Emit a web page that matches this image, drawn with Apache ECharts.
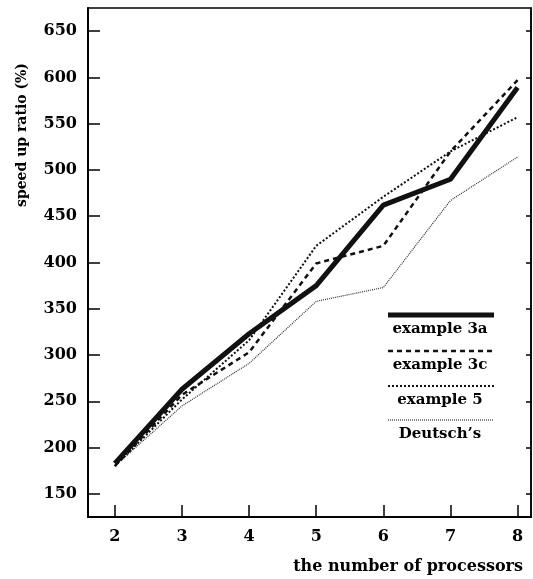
<!DOCTYPE html>
<html>
<head>
<meta charset="utf-8">
<script src="https://cdn.jsdelivr.net/npm/echarts@6/dist/echarts.min.js"></script>
<style>
  html, body { margin: 0; padding: 0; background: #fff; }
  #chart { width: 533px; height: 579px; }
</style>
</head>
<body>
<div id="chart"></div>
<script>
const processors = [2, 3, 4, 5, 6, 7, 8]
const example3a = [183, 263, 323, 375, 462, 490, 589]
const example3c = [180, 257, 303, 399, 418, 520, 597]
const example5 = [180, 252, 316, 418, 471, 520, 557]
const deutsch = [180, 245, 291, 358, 373, 467, 514]
const yTicks = [150, 200, 250, 300, 350, 400, 450, 500, 550, 600, 650]
const xTicks = [2, 3, 4, 5, 6, 7, 8]

const font = 'DejaVu Serif'
const pairs = (vals) => processors.map((p, i) => [p, vals[i]])

const styles = {
  '3a': { color: '#111', width: 5, type: 'solid' },
  '3c': { color: '#111', width: 2.5, type: [5, 4] },
  '5': { color: '#111', width: 2, type: [2, 2] },
  'de': { color: '#333', width: 1.2, type: [1, 1] }
}

const chart = echarts.init(document.getElementById('chart'))

// legend is drawn by hand: line above its label, as in the original
const legendRows = [
  { text: 'example 3a', st: styles['3a'], y: 315 },
  { text: 'example 3c', st: styles['3c'], y: 351 },
  { text: 'example 5', st: styles['5'], y: 386 },
  { text: 'Deutsch\u2019s', st: styles['de'], y: 420 }
]
const legendGraphics = []
legendRows.forEach((r) => {
  legendGraphics.push({
    type: 'line',
    shape: { x1: 388, y1: r.y, x2: 494, y2: r.y },
    style: { stroke: r.st.color, lineWidth: r.st.width, lineDash: r.st.type === 'solid' ? null : r.st.type }
  })
  legendGraphics.push({
    type: 'text',
    x: 440,
    y: r.y + 14,
    style: {
      text: r.text,
      font: 'bold 15px "' + font + '"',
      fill: '#000',
      align: 'center',
      verticalAlign: 'middle'
    }
  })
})

const option = {
  animation: false,
  backgroundColor: '#fff',
  grid: {
    left: 88,
    right: 2,
    top: 8,
    bottom: 62,
    show: true,
    borderColor: '#000',
    borderWidth: 1.5
  },
  xAxis: {
    type: 'value',
    min: 1.6,
    max: 8.2,
    axisLine: { show: true, onZero: false, lineStyle: { color: '#000', width: 2 } },
    axisTick: { show: true, inside: true, length: 12, customValues: xTicks, lineStyle: { color: '#000', width: 1.5 } },
    axisLabel: {
      customValues: xTicks,
      color: '#000',
      fontFamily: font,
      fontWeight: 'bold',
      fontSize: 16,
      margin: 12
    },
    splitLine: { show: false }
  },
  yAxis: [
    {
      type: 'value',
      min: 125,
      max: 675,
      axisLine: { show: true, lineStyle: { color: '#000', width: 2 } },
      axisTick: { show: true, inside: true, length: 12, customValues: yTicks, lineStyle: { color: '#000', width: 1.5 } },
      axisLabel: {
        customValues: yTicks,
        color: '#000',
        fontFamily: font,
        fontWeight: 'bold',
        fontSize: 16,
        margin: 11
      },
      splitLine: { show: false }
    },
    {
      type: 'value',
      position: 'right',
      min: 125,
      max: 675,
      axisLine: { show: true, lineStyle: { color: '#000', width: 1.5 } },
      axisTick: { show: true, inside: true, length: 5, customValues: yTicks, lineStyle: { color: '#000', width: 1.5 } },
      axisLabel: { show: false },
      splitLine: { show: false }
    }
  ],
  graphic: [
    {
      type: 'text',
      x: 22,
      y: 135,
      rotation: Math.PI / 2,
      style: {
        text: 'speed up ratio (%)',
        font: 'bold 14px "' + font + '"',
        fill: '#000',
        align: 'center',
        verticalAlign: 'middle'
      }
    },
    {
      type: 'text',
      x: 523,
      y: 567,
      style: {
        text: 'the number of processors',
        font: 'bold 16px "' + font + '"',
        fill: '#000',
        align: 'right',
        verticalAlign: 'middle'
      }
    }
  ].concat(legendGraphics),
  series: [
    { name: 'example 3a', type: 'line', data: pairs(example3a), symbol: 'none', lineStyle: styles['3a'], z: 5 },
    { name: 'example 3c', type: 'line', data: pairs(example3c), symbol: 'none', lineStyle: styles['3c'], z: 4 },
    { name: 'example 5', type: 'line', data: pairs(example5), symbol: 'none', lineStyle: styles['5'], z: 3 },
    { name: 'Deutsch\u2019s', type: 'line', data: pairs(deutsch), symbol: 'none', lineStyle: styles['de'], z: 2 }
  ]
}
chart.setOption(option)
</script>
</body>
</html>
